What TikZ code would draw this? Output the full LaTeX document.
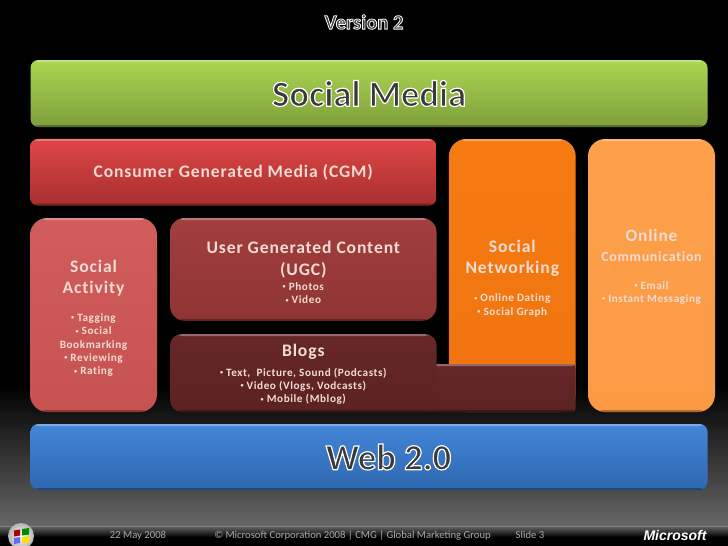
\documentclass[tikz,border=0pt]{standalone}
\usepackage{fontspec}
\setmainfont{Carlito}
\newfontfamily\panelfont[LetterSpace=5,Ligatures=NoCommon]{Carlito}
\newfontfamily\logofont{Liberation Sans}
\newcommand{\headtxt}{\fontsize{13.2}{16}\panelfont\bfseries}
\newcommand{\bultxt}{\fontsize{8.4}{10}\panelfont\bfseries\raisebox{0.3ex}{\scalebox{0.55}{•}}~}
\newcommand{\headroom}{\rule{0pt}{14pt}}
\newcommand{\bigtxt}[3]{\bfseries\fontsize{#1}{#1}\selectfont\textcolor{logogrey}{\special{pdf:code 2 Tr #2 w 1 1 1 RG}#3\special{pdf:code 0 Tr 0 w}}}
\definecolor{logogrey}{HTML}{3A3A3A}
\definecolor{greentop}{HTML}{AAD651}
\definecolor{greenbot}{HTML}{7F9F3B}
\definecolor{redtop}{HTML}{DF4646}
\definecolor{redbot}{HTML}{A82F2F}
\definecolor{rosetop}{HTML}{D15C5C}
\definecolor{rosebot}{HTML}{C75252}
\definecolor{ugctop}{HTML}{A23E3E}
\definecolor{ugcbot}{HTML}{8F3434}
\definecolor{blogtop}{HTML}{662727}
\definecolor{blogbot}{HTML}{5C2222}
\definecolor{orangetop}{HTML}{F57B12}
\definecolor{orangebot}{HTML}{F1740E}
\definecolor{peachtop}{HTML}{FDA04B}
\definecolor{peachbot}{HTML}{FC9A44}
\definecolor{bluetop}{HTML}{4286D8}
\definecolor{bluebot}{HTML}{2F67AF}
\definecolor{paletxt}{HTML}{F4DCD2}
\definecolor{foottxt}{HTML}{A8A8A8}
\tikzset{
  panel/.style n args={4}{top color=#1, bottom color=#2,
    minimum width=#3*0.75pt, minimum height=#4*0.75pt, inner sep=0pt,
    rounded corners=6pt, align=center, text=paletxt, font=\fontsize{8.4}{10}\selectfont,
    path picture={
      \fill[white, opacity=0.3] (path picture bounding box.north west) rectangle ([yshift=-1.5pt]path picture bounding box.north east);
      \fill[black, opacity=0.3] (path picture bounding box.south west) rectangle ([yshift=1.5pt]path picture bounding box.south east);
    }},
  foot/.style={font=\fontsize{8}{10}\selectfont, text=foottxt, inner sep=0pt, text height=6pt, text depth=2pt}
}
\begin{document}
\begin{tikzpicture}[x=0.75pt, y=-0.75pt]
  \useasboundingbox (0,0) rectangle (728,546);
  % page
  \fill[black] (0,0) rectangle (728,546);
  \fill[top color=black, bottom color=black!60!white] (0,385) rectangle (728,526);
  \fill[top color=black!60!white, bottom color=black] (0,526) rectangle (728,537);
  \fill[black!50!white] (0,526) rectangle (728,526.8);

  \node[inner sep=0pt] (version) at (364,22) {\bigtxt{15.4}{0.6}{Version 2}};

  % top and bottom bars
  \node[panel={greentop}{greenbot}{677}{67}] (social) at (369,93.5) {\bigtxt{27.5}{0.9}{Social Media}};
  \node[panel={bluetop}{bluebot}{677}{66}] (web) at (369,457) {\hspace*{29.25pt}\bigtxt{27.5}{0.9}{Web 2.0}};

  % columns
  \node[panel={orangetop}{orangebot}{126.7}{273}, rounded corners=13pt] (network) at (512.3,275.5)
    {\headroom\headtxt Social\\[6pt] \headtxt Networking\\[11pt] \bultxt Online Dating\\ \bultxt Social Graph};
  \node[panel={peachtop}{peachbot}{127}{273}, rounded corners=13pt] (online) at (651.5,275.5)
    {{\fontsize{13}{16}\panelfont\bfseries Online}\\[4.5pt] {\fontsize{10.5}{14}\panelfont\bfseries Communication}\\[11pt] \bultxt Email\\ \bultxt Instant Messaging\\[4pt] \mbox{}};

  \node[panel={blogtop}{blogbot}{150}{48}, rounded corners=3pt] (blogbar) at (500.7,388) {};

  % media blocks
  \node[panel={redtop}{redbot}{406.6}{66.7}] (cgm) at (233.3,172.3) {\headtxt Consumer Generated Media (CGM)};
  \node[panel={rosetop}{rosebot}{127}{194}, rounded corners=13pt] (activity) at (93.5,315)
    {\headroom\headtxt Social\\[6pt] \headtxt Activity\\[11pt] \bultxt Tagging\\ \bultxt Social\\ {\fontsize{8.4}{10}\panelfont\bfseries Bookmarking}\\ \bultxt Reviewing\\ \bultxt Rating};
  \node[panel={ugctop}{ugcbot}{266.6}{102.7}, rounded corners=11pt] (ugc) at (303.3,269.4)
    {\headroom\headtxt User Generated Content\\[6pt] \headtxt (UGC)\\[1.5pt] \bultxt Photos\\ \bultxt Video};
  \node[panel={blogtop}{blogbot}{266.6}{78}, rounded corners=9pt] (blogs) at (303.3,373)
    {\rule{0pt}{11.5pt}\headtxt Blogs\\[4.5pt] \bultxt Text,~ Picture, Sound (Podcasts)\\ \bultxt Video (Vlogs, Vodcasts)\\ \bultxt Mobile (Mblog)};

  % footer
  \node[foot] (date) at (138,536) {22 May 2008};
  \node[foot] (legal) at (352.5,536) {© Microsoft Corporation 2008 | CMG | Global Marketing Group};
  \node[foot] (slide) at (530,536) {Slide 3};
  \node[text=white, inner sep=0pt, font=\fontsize{10.5}{13}\logofont\bfseries\itshape] (logo) at (675,535) {Microsoft};

  % start button
  \shade[inner color=white, outer color=black!30!white] (21,536) circle (13);
  \fill[red!70!black] (14,530.5) -- (20,529.5) -- (20,535.5) -- (14,536.5) -- cycle;
  \fill[green!55!black] (22,529) -- (29,528) -- (29,534.5) -- (22,535.5) -- cycle;
  \fill[blue!60!white] (14,538) -- (20,537) -- (20,543) -- (14,544) -- cycle;
  \fill[yellow!80!orange] (22,537) -- (29,536) -- (29,542.5) -- (22,543.5) -- cycle;
\end{tikzpicture}
\end{document}
